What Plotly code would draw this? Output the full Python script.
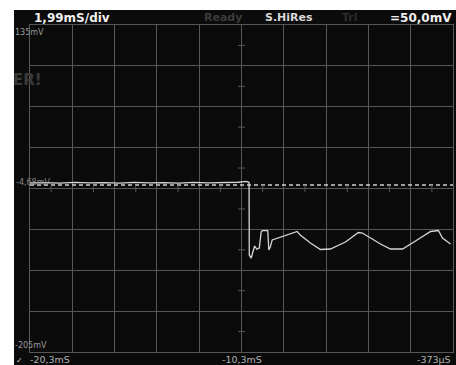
import plotly.graph_objects as go

# ---- data ----
time_ms = [-20.30, -19.60, -18.90, -18.20, -17.50, -16.80, -16.10, -15.40, -14.70, -14.00,
           -13.30, -12.60, -11.90, -11.20, -10.50, -10.10, -9.98, -9.97, -9.88, -9.72,
           -9.61, -9.50, -9.41, -9.36, -9.10, -9.05, -8.98, -8.89, -8.51, -8.04,
           -7.71, -7.57, -7.09, -6.62, -6.15, -5.44, -4.83, -4.64, -4.41, -3.79,
           -3.32, -2.75, -2.14, -1.43, -1.06, -0.87, -0.49]
volt_mv = [-29.3, -28.8, -29.5, -28.6, -29.2, -28.9, -29.4, -28.7, -29.1, -28.8,
           -29.4, -28.6, -29.2, -28.9, -28.5, -27.6, -28.8, -104.1, -107.3, -94.8,
           -98.2, -96.9, -80.2, -78.7, -78.7, -98.9, -95.8, -88.5, -85.4, -82.3,
           -79.7, -83.4, -91.7, -98.4, -97.9, -90.6, -80.8, -81.3, -84.4, -92.7,
           -97.9, -97.9, -89.6, -79.7, -78.7, -86.5, -92.7]

trigger_level_mv = -31.4
x_start, x_end = -20.3, -0.373      # ms
y_top, y_bottom = 135.0, -205.0      # mV
n_xdiv, n_ydiv = 10, 8

header_left = "1,99mS/div"
header_mid = ["Ready", "S.HiRes", "Trl"]
header_right = "=50,0mV"
y_labels = ["135mV", "-205mV"]
x_labels = ["-20,3mS", "-10,3mS", "-373µS"]
marker_label = "-4,68mV"

# ---- derived grid helpers ----
dx = (x_end - x_start) / n_xdiv
dy = (y_top - y_bottom) / n_ydiv
x_center = x_start + dx * n_xdiv / 2
y_center = y_top - dy * n_ydiv / 2
mid_x = [x_start + dx * (i + 0.5) for i in range(n_xdiv)]
mid_y = [y_bottom + dy * (j + 0.5) for j in range(n_ydiv)]

GRID = "#575757"
FONT = "DejaVu Sans"

fig = go.Figure()

# trigger dashed line
fig.add_trace(go.Scatter(x=[x_start, x_end], y=[trigger_level_mv, trigger_level_mv],
                         mode="lines", line=dict(color="#cfcfcf", width=1.5, dash="4px,3px"),
                         hoverinfo="skip"))
# center-line minor ticks
fig.add_trace(go.Scatter(x=mid_x, y=[y_center] * len(mid_x), mode="markers",
                         marker=dict(symbol="line-ns-open", size=5, color=GRID,
                                     line=dict(color=GRID, width=1)),
                         hoverinfo="skip"))
fig.add_trace(go.Scatter(x=[x_center] * len(mid_y), y=mid_y, mode="markers",
                         marker=dict(symbol="line-ew-open", size=5, color=GRID,
                                     line=dict(color=GRID, width=1)),
                         hoverinfo="skip"))
# signal trace
fig.add_trace(go.Scatter(x=time_ms, y=volt_mv, mode="lines",
                         line=dict(color="#d6d6d6", width=1.3), hoverinfo="skip"))

W, H = 456, 365
ml, mr, mt, mb = 30, 3, 25, 13
pw, ph = W - ml - mr, H - mt - mb

def px(x):
    return (x - ml) / pw

def py(y):
    return (H - mb - y) / ph

fig.update_layout(
    width=W, height=H, showlegend=False,
    margin=dict(l=ml, r=mr, t=mt, b=mb, pad=0),
    paper_bgcolor="#0b0b0b", plot_bgcolor="#0b0b0b",
    xaxis=dict(range=[x_start, x_end], tick0=x_start, dtick=dx, showgrid=True,
               gridcolor=GRID, gridwidth=1, zeroline=False, showticklabels=False,
               showline=True, mirror=True, linecolor=GRID, linewidth=1, ticks=""),
    yaxis=dict(range=[y_bottom, y_top], tick0=y_bottom, dtick=dy, showgrid=True,
               gridcolor=GRID, gridwidth=1, zeroline=False, showticklabels=False,
               showline=True, mirror=True, linecolor=GRID, linewidth=1, ticks=""),
    font=dict(family=FONT),
)

# white strips outside the scope screen
fig.add_shape(type="rect", xref="paper", yref="paper", layer="above",
              x0=px(0), x1=px(14), y0=py(H), y1=py(0),
              fillcolor="white", line=dict(width=0))
fig.add_shape(type="rect", xref="paper", yref="paper", layer="above",
              x0=px(0), x1=px(W), y0=py(10), y1=py(0),
              fillcolor="white", line=dict(width=0))

def ann(text, x, y, size, color, xanchor="left", bold=False, family=FONT):
    fig.add_annotation(text=f"<b>{text}</b>" if bold else text,
                       xref="paper", yref="paper", x=px(x), y=py(y),
                       xanchor=xanchor, yanchor="middle", showarrow=False,
                       font=dict(size=size, color=color, family=family))

# header
ann(header_left, 32, 18, 12, "#f0f0f0", bold=True)
ann(header_mid[0], 202, 18, 11, "#3c3c3c", bold=True)
ann(header_mid[1], 263, 18, 11, "#d8d8d8", bold=True)
ann(header_mid[2], 340, 18, 11, "#2e2e2e", bold=True)
ann(header_right, 454, 18, 12, "#f0f0f0", xanchor="right", bold=True)

# y labels
ann(y_labels[0], 13, 32, 8, "#9a9a9a")
ann(y_labels[1], 13, 345, 8, "#9a9a9a")
# x labels
ann(x_labels[0], 28, 359, 9.5, "#b0b0b0")
ann(x_labels[1], 242, 359, 9.5, "#b0b0b0", xanchor="center")
ann(x_labels[2], 453, 359, 9.5, "#b0b0b0", xanchor="right")
# marker label and stray screen text
ann(marker_label, 14, 183, 8, "#8a8a8a")
ann("ER!", 11, 80, 15, "#3a3a3a", bold=True)
ann("✓", 14, 360, 8, "#cfcfcf")

fig.write_html("out.html")
